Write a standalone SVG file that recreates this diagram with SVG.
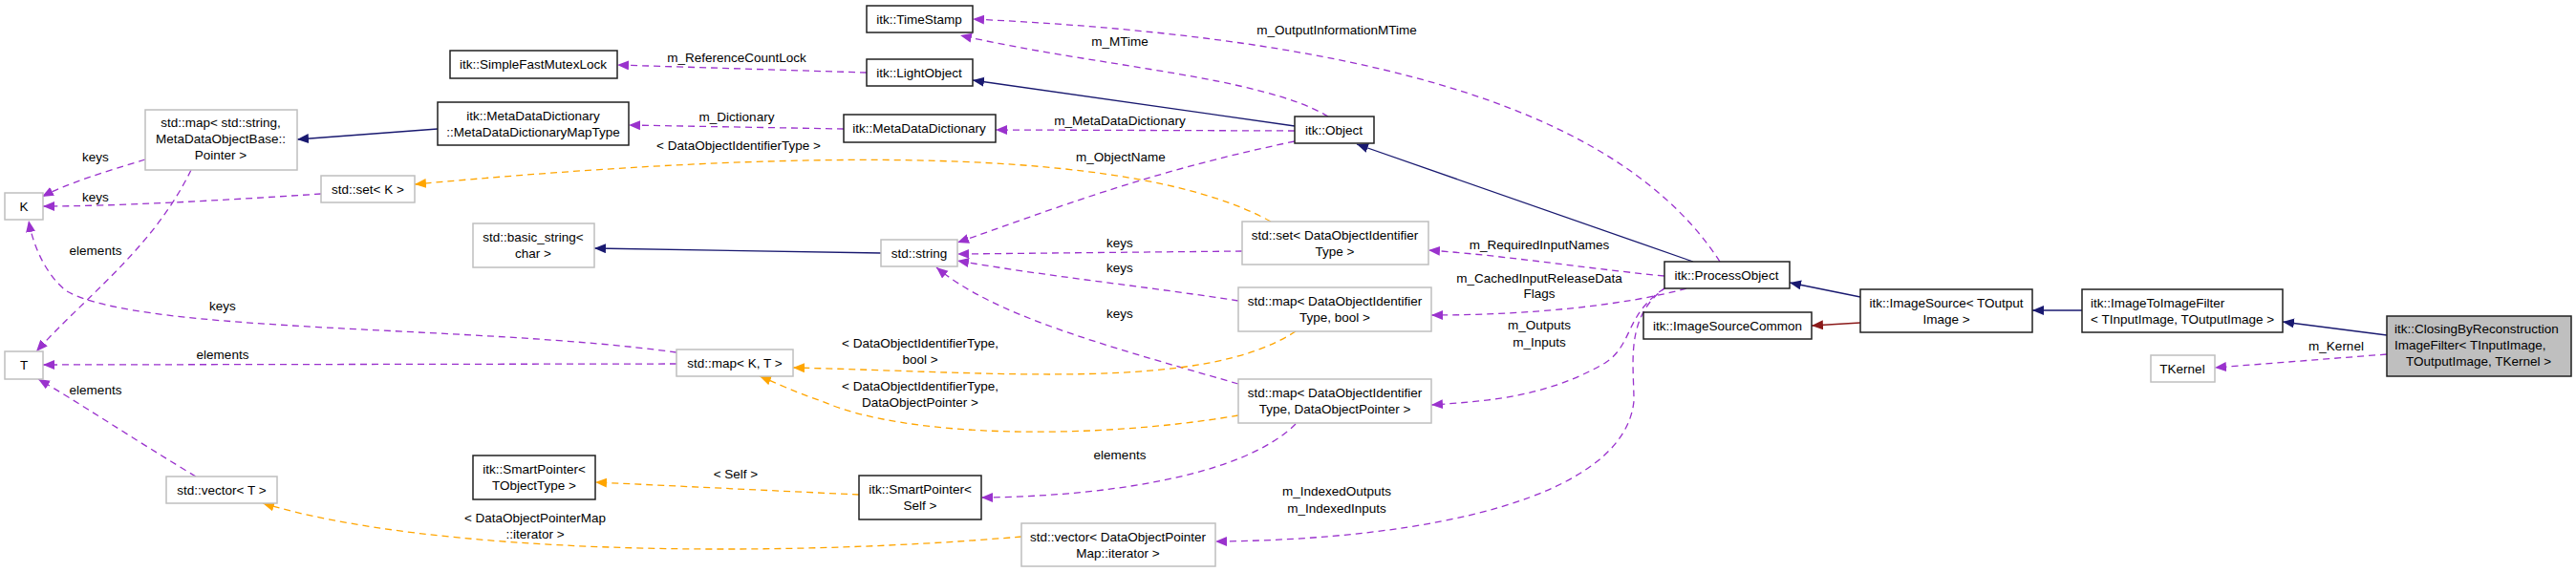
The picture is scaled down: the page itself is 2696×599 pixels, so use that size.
<svg xmlns="http://www.w3.org/2000/svg" width="2696" height="599" viewBox="0 0 2696 599">
<style>
text{font-family:"Liberation Sans",Arial,sans-serif;font-size:13.5px;fill:#000;text-anchor:middle}
.g rect{fill:#fff;stroke:#bfbfbf;stroke-width:1.5}
.b rect{fill:#fff;stroke:#202020;stroke-width:1.5}
.main rect{fill:#bfbfbf;stroke:#202020;stroke-width:1.5}
.p{fill:none;stroke:#9a32cd;stroke-width:1.3;stroke-dasharray:7,5}
.o{fill:none;stroke:#ffa500;stroke-width:1.3;stroke-dasharray:7,5}
.u{fill:none;stroke:#191970;stroke-width:1.3}
.r{fill:none;stroke:#8b1a1a;stroke-width:1.3}
</style>
<defs>
<marker id="mp" markerUnits="userSpaceOnUse" markerWidth="14" markerHeight="12" refX="12" refY="5" orient="auto"><path d="M0,0L12,5L0,10z" fill="#9a32cd"/></marker>
<marker id="mo" markerUnits="userSpaceOnUse" markerWidth="14" markerHeight="12" refX="12" refY="5" orient="auto"><path d="M0,0L12,5L0,10z" fill="#ffa500"/></marker>
<marker id="mu" markerUnits="userSpaceOnUse" markerWidth="14" markerHeight="12" refX="12" refY="5" orient="auto"><path d="M0,0L12,5L0,10z" fill="#191970"/></marker>
<marker id="mr" markerUnits="userSpaceOnUse" markerWidth="14" markerHeight="12" refX="12" refY="5" orient="auto"><path d="M0,0L12,5L0,10z" fill="#8b1a1a"/></marker>
</defs>
<g id="connectors">
<path class="p" marker-end="url(#mp)" d="M1390,122C1320,80 1150,70 1005,37"/>
<path class="p" marker-end="url(#mp)" d="M1800,274C1700,120 1450,40 1018,20"/>
<path class="p" marker-end="url(#mp)" d="M907,76L646,68"/>
<path class="u" marker-end="url(#mu)" d="M1355,132L1018,84"/>
<path class="p" marker-end="url(#mp)" d="M883,135L658,131"/>
<path class="p" marker-end="url(#mp)" d="M1355,137L1042,136"/>
<path class="u" marker-end="url(#mu)" d="M458,135L311,146"/>
<path class="p" marker-end="url(#mp)" d="M152,167C110,180 70,192 44,206"/>
<path class="p" marker-end="url(#mp)" d="M200,178C160,260 90,310 38,368"/>
<path class="p" marker-end="url(#mp)" d="M336,203C230,210 120,216 45,216"/>
<path class="o" marker-end="url(#mo)" d="M1330,232C1200,160 900,150 434,193"/>
<path class="p" marker-end="url(#mp)" d="M1355,148C1200,180 1100,220 1002,254"/>
<path class="u" marker-end="url(#mu)" d="M922,265L622,260"/>
<path class="p" marker-end="url(#mp)" d="M1300,263L1002,266"/>
<path class="p" marker-end="url(#mp)" d="M1296,315C1200,300 1100,290 1002,273"/>
<path class="p" marker-end="url(#mp)" d="M1296,402C1150,360 1040,330 980,280"/>
<path class="p" marker-end="url(#mp)" d="M708,369C500,340 150,350 70,305C50,290 35,260 30,231"/>
<path class="p" marker-end="url(#mp)" d="M708,381L45,382"/>
<path class="p" marker-end="url(#mp)" d="M205,499C140,460 80,420 40,397"/>
<path class="o" marker-end="url(#mo)" d="M1356,347C1260,410 1050,390 830,385"/>
<path class="o" marker-end="url(#mo)" d="M1296,435C1150,460 950,460 860,420C830,410 810,400 795,394"/>
<path class="o" marker-end="url(#mo)" d="M899,518L623,505"/>
<path class="p" marker-end="url(#mp)" d="M1356,444C1300,500 1150,520 1027,521"/>
<path class="o" marker-end="url(#mo)" d="M1069,562C800,585 450,580 275,527"/>
<path class="u" marker-end="url(#mu)" d="M1772,274L1420,151"/>
<path class="p" marker-end="url(#mp)" d="M1742,289C1650,280 1580,268 1495,262"/>
<path class="p" marker-end="url(#mp)" d="M1765,302C1700,320 1600,330 1498,330"/>
<path class="p" marker-end="url(#mp)" d="M1742,302C1700,330 1710,360 1680,380C1620,415 1560,420 1498,424"/>
<path class="p" marker-end="url(#mp)" d="M1745,300C1700,330 1710,380 1710,420C1700,520 1500,565 1272,567"/>
<path class="u" marker-end="url(#mu)" d="M1947,311L1873,296"/>
<path class="r" marker-end="url(#mr)" d="M1947,338L1896,341"/>
<path class="u" marker-end="url(#mu)" d="M2179,325L2127,325"/>
<path class="u" marker-end="url(#mu)" d="M2498,351L2389,337"/>
<path class="p" marker-end="url(#mp)" d="M2498,371L2318,385"/>
</g>
<g id="labels">
<text x="1172" y="48">m_MTime</text>
<text x="1399" y="36">m_OutputInformationMTime</text>
<text x="771" y="65">m_ReferenceCountLock</text>
<text x="771" y="127">m_Dictionary</text>
<text x="1172" y="131">m_MetaDataDictionary</text>
<text x="773" y="157">&lt; DataObjectIdentifierType &gt;</text>
<text x="1173" y="169">m_ObjectName</text>
<text x="100" y="169">keys</text>
<text x="100" y="211">keys</text>
<text x="100" y="267">elements</text>
<text x="1172" y="259">keys</text>
<text x="1172" y="285">keys</text>
<text x="233" y="325">keys</text>
<text x="1172" y="333">keys</text>
<text x="963" y="364">&lt; DataObjectIdentifierType,</text>
<text x="963" y="381">bool &gt;</text>
<text x="233" y="376">elements</text>
<text x="963" y="409">&lt; DataObjectIdentifierType,</text>
<text x="963" y="426">DataObjectPointer &gt;</text>
<text x="100" y="413">elements</text>
<text x="1172" y="481">elements</text>
<text x="770" y="501">&lt; Self &gt;</text>
<text x="560" y="547">&lt; DataObjectPointerMap</text>
<text x="560" y="564">::iterator &gt;</text>
<text x="1611" y="261">m_RequiredInputNames</text>
<text x="1611" y="296">m_CachedInputReleaseData</text>
<text x="1611" y="312">Flags</text>
<text x="1611" y="345">m_Outputs</text>
<text x="1611" y="363">m_Inputs</text>
<text x="1399" y="519">m_IndexedOutputs</text>
<text x="1399" y="537">m_IndexedInputs</text>
<text x="2445" y="367">m_Kernel</text>
</g>
<g id="TimeStamp" class="b"><rect x="907" y="6" width="111" height="28"/><text x="962" y="25">itk::TimeStamp</text></g>
<g id="SimpleFastMutexLock" class="b"><rect x="471" y="53" width="175" height="29"/><text x="558" y="72">itk::SimpleFastMutexLock</text></g>
<g id="LightObject" class="b"><rect x="907" y="62" width="111" height="28"/><text x="962" y="81">itk::LightObject</text></g>
<g id="MapType" class="b"><rect x="458" y="107" width="200" height="45"/><text x="558" y="126">itk::MetaDataDictionary</text><text x="558" y="143">::MetaDataDictionaryMapType</text></g>
<g id="MetaDataDictionary" class="b"><rect x="883" y="120" width="159" height="29"/><text x="962" y="139">itk::MetaDataDictionary</text></g>
<g id="Object" class="b"><rect x="1355" y="122" width="83" height="28"/><text x="1396" y="141">itk::Object</text></g>
<g id="MapString" class="g"><rect x="152" y="115" width="159" height="63"/><text x="231" y="133">std::map&lt; std::string,</text><text x="231" y="150">MetaDataObjectBase::</text><text x="231" y="167">Pointer &gt;</text></g>
<g id="K" class="g"><rect x="5" y="202" width="40" height="28"/><text x="25" y="221">K</text></g>
<g id="SetK" class="g"><rect x="336" y="184" width="98" height="28"/><text x="385" y="203">std::set&lt; K &gt;</text></g>
<g id="BasicString" class="g"><rect x="495" y="234" width="127" height="46"/><text x="558" y="253">std::basic_string&lt;</text><text x="558" y="270">char &gt;</text></g>
<g id="String" class="g"><rect x="922" y="251" width="80" height="28"/><text x="962" y="270">std::string</text></g>
<g id="SetDOI" class="g"><rect x="1300" y="232" width="195" height="45"/><text x="1397" y="251">std::set&lt; DataObjectIdentifier</text><text x="1397" y="268">Type &gt;</text></g>
<g id="MapBool" class="g"><rect x="1296" y="301" width="202" height="46"/><text x="1397" y="320">std::map&lt; DataObjectIdentifier</text><text x="1397" y="337">Type, bool &gt;</text></g>
<g id="MapKT" class="g"><rect x="708" y="366" width="122" height="28"/><text x="769" y="385">std::map&lt; K, T &gt;</text></g>
<g id="T" class="g"><rect x="5" y="368" width="40" height="29"/><text x="25" y="387">T</text></g>
<g id="MapDOP" class="g"><rect x="1296" y="397" width="202" height="46"/><text x="1397" y="416">std::map&lt; DataObjectIdentifier</text><text x="1397" y="433">Type, DataObjectPointer &gt;</text></g>
<g id="SmartPointerT" class="b"><rect x="495" y="477" width="128" height="46"/><text x="559" y="496">itk::SmartPointer&lt;</text><text x="559" y="513">TObjectType &gt;</text></g>
<g id="SmartPointerSelf" class="b"><rect x="899" y="498" width="128" height="46"/><text x="963" y="517">itk::SmartPointer&lt;</text><text x="963" y="534">Self &gt;</text></g>
<g id="VectorT" class="g"><rect x="174" y="499" width="116" height="28"/><text x="232" y="518">std::vector&lt; T &gt;</text></g>
<g id="VectorDOP" class="g"><rect x="1069" y="548" width="203" height="45"/><text x="1170" y="567">std::vector&lt; DataObjectPointer</text><text x="1170" y="584">Map::iterator &gt;</text></g>
<g id="ProcessObject" class="b"><rect x="1742" y="274" width="131" height="28"/><text x="1807" y="293">itk::ProcessObject</text></g>
<g id="ImageSourceCommon" class="b"><rect x="1720" y="327" width="176" height="28"/><text x="1808" y="346">itk::ImageSourceCommon</text></g>
<g id="ImageSource" class="b"><rect x="1947" y="303" width="180" height="45"/><text x="2037" y="322">itk::ImageSource&lt; TOutput</text><text x="2037" y="339">Image &gt;</text></g>
<g id="ImageToImageFilter" class="b"><rect x="2179" y="303" width="210" height="45"/><text x="2188" y="322" style="text-anchor:start">itk::ImageToImageFilter</text><text x="2188" y="339" style="text-anchor:start">&lt; TInputImage, TOutputImage &gt;</text></g>
<g id="TKernel" class="g"><rect x="2251" y="372" width="67" height="28"/><text x="2284" y="391">TKernel</text></g>
<g id="ClosingBy" class="main"><rect x="2498" y="331" width="193" height="63"/><text x="2506" y="349" style="text-anchor:start">itk::ClosingByReconstruction</text><text x="2506" y="366" style="text-anchor:start">ImageFilter&lt; TInputImage,</text><text x="2594" y="383">TOutputImage, TKernel &gt;</text></g>
</svg>
